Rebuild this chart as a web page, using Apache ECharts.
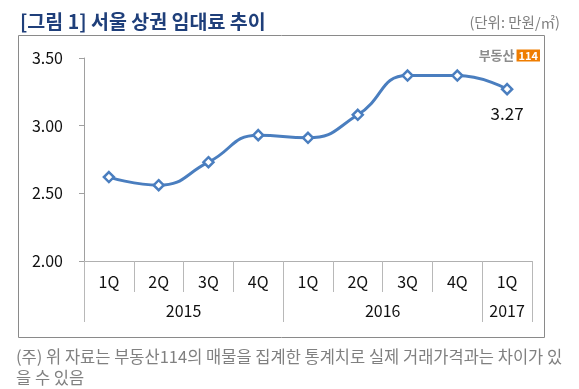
<!DOCTYPE html>
<html><head><meta charset="utf-8">
<script src="https://cdn.jsdelivr.net/npm/echarts@6/dist/echarts.min.js"></script>
<style>html,body{margin:0;padding:0;background:#fff}#c{width:579px;height:389px}</style>
</head><body><div id="c"></div>
<script>
const quarters = ['1Q','2Q','3Q','4Q','1Q','2Q','3Q','4Q','1Q'];
const rents = [2.62, 2.56, 2.73, 2.93, 2.91, 3.08, 3.37, 3.37, 3.27];
const years = ['2015','2016','2017'];
const yearBounds = [0, 4, 8, 9];
const yearCenters = [2, 6, 8.5];
const yTicks = [2.0, 2.5, 3.0, 3.5];

const FONT = '"Noto Sans CJK KR", "Noto Sans", sans-serif';
const chart = echarts.init(document.getElementById('c'));
const seriesData = rents.map((v, i) => i === rents.length - 1
  ? {value: v, label: {show: true, position: 'bottom', distance: 10, formatter: p => p.value.toFixed(2), fontSize: 17, color: '#111', fontFamily: FONT}}
  : v);

chart.setOption({
  animation: false,
  textStyle: {fontFamily: FONT},
  title: [
    {text: '[그림 1] 서울 상권 임대료 추이', left: 15, top: 7,
     textStyle: {fontSize: 19.5, fontWeight: 'bold', color: '#1f3f7a', fontFamily: FONT}},
    {text: '(단위: 만원/㎡)', right: 14, top: 10,
     textStyle: {fontSize: 14.5, fontWeight: 'normal', color: '#7f7f7f', fontFamily: FONT}},
    {text: '{a|부동산}{b|114}', right: 34, top: 44,
     textStyle: {rich: {
       a: {fontSize: 13, fontWeight: 'bold', color: '#8c8c8c', fontFamily: FONT, padding: [0, 2, 0, 0]},
       b: {fontSize: 11, fontWeight: 'bold', color: '#fff', backgroundColor: '#ef7d00', padding: [1, 2, 0, 2], fontFamily: FONT}
     }}},
    {text: '(주) 위 자료는 부동산114의 매물을 집계한 통계치로 실제 거래가격과는 차이가 있\n을 수 있음',
     left: 16, top: 346, padding: 0,
     textStyle: {fontSize: 16.5, fontWeight: 'normal', color: '#808080', lineHeight: 21, fontFamily: FONT}}
  ],
  graphic: [{type: 'rect', shape: {x: 18.5, y: 35.5, width: 526, height: 302}, style: {fill: 'none', stroke: '#8a8a8a', lineWidth: 1}, silent: true}],
  grid: {left: 84, right: 47, top: 58, bottom: 128, containLabel: false},
  xAxis: [
    {type: 'category', data: quarters, position: 'bottom', boundaryGap: true,
     axisLine: {lineStyle: {color: '#b0b0b0', width: 1}},
     axisTick: {show: true, interval: 0, length: 31, lineStyle: {color: '#b8b8b8'}},
     axisLabel: {interval: 0, margin: 13, fontSize: 16, color: '#111', fontFamily: FONT},
     splitLine: {show: false}},
    {type: 'value', min: 0, max: 9, position: 'bottom', offset: 0,
     axisLine: {show: true, lineStyle: {color: '#b0b0b0'}},
     axisTick: {show: true, customValues: yearBounds, length: 61, lineStyle: {color: '#b8b8b8'}},
     axisLabel: {customValues: yearCenters, margin: 42, fontSize: 16, color: '#111', fontFamily: FONT,
       formatter: v => years[yearCenters.indexOf(v)] || ''},
     splitLine: {show: false}}
  ],
  yAxis: {type: 'value', min: 2, max: 3.5, interval: 0.5,
    axisLine: {show: true, lineStyle: {color: '#a0a0a0'}},
    axisTick: {show: true, length: 5, lineStyle: {color: '#a0a0a0'}},
    axisLabel: {margin: 21, fontSize: 16, color: '#111', fontFamily: FONT, formatter: v => v.toFixed(2)},
    splitLine: {show: false}},
  series: [{type: 'line', xAxisIndex: 0, data: seriesData, smooth: 0.5,
    lineStyle: {color: '#4a7ebf', width: 3},
    symbol: 'diamond', symbolSize: 10,
    itemStyle: {color: '#fff', borderColor: '#4a7ebf', borderWidth: 2.5}}]
});
</script></body></html>
